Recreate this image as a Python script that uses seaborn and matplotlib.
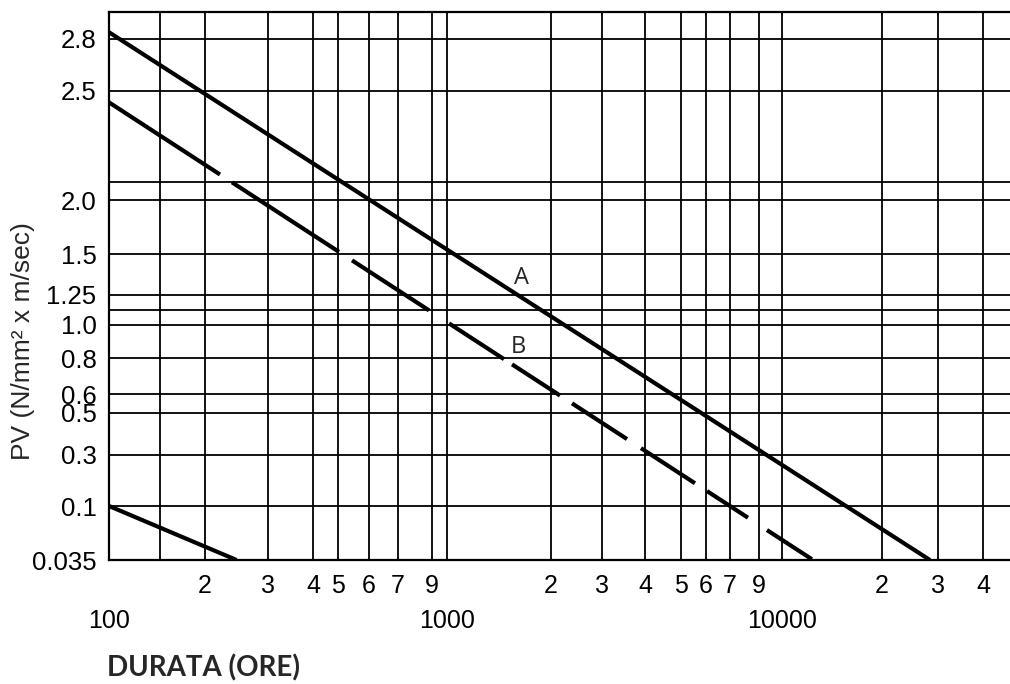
import numpy as np
import pandas as pd
import matplotlib
matplotlib.use('Agg')
import matplotlib.pyplot as plt
import seaborn as sns

# curves: duration (hours) vs PV
hours_a = [100, 28300]
pv_a = [2.85, 0.035]
hours_b = [100, 12400]
pv_b = [2.45, 0.035]
hours_c = [100, 245]
pv_c = [0.1, 0.035]

# y axis
pv_ticks = [0.035, 0.1, 0.3, 0.5, 0.6, 0.8, 1.0, 1.25, 1.5, 2.0, 2.5, 2.8]
pv_labels = ['0.035', '0.1', '0.3', '0.5', '0.6', '0.8', '1.0', '1.25', '1.5', '2.0', '2.5', '2.8']
pv_extra = [1.1, 2.1]

# x axis
hours_major = [100, 1000, 10000]
hours_major_labels = ['100', '1000', '10000']
hours_minor = [150, 200, 300, 400, 500, 600, 700, 900,
               2000, 3000, 4000, 5000, 6000, 7000, 9000,
               20000, 30000, 40000]
hours_minor_labels = ['', '2', '3', '4', '5', '6', '7', '9',
                      '2', '3', '4', '5', '6', '7', '9',
                      '2', '3', '4']

# the printed grid is hand drawn and uneven, so the scales are piecewise
# (value knots -> pixel position on the original sheet)
y_knots = [0.035, 0.1, 0.3, 0.5, 0.6, 0.8, 1.0, 1.1, 1.25, 1.5, 2.0, 2.1, 2.5, 2.8, 3.0]
y_knot_pos = [0, 54, 105, 147, 166, 202, 235, 250, 265, 306, 360, 378, 469, 521, 548]
x_knots = [100, 150, 200, 300, 400, 500, 600, 700, 900, 1000,
           2000, 3000, 4000, 5000, 6000, 7000, 9000, 10000,
           20000, 30000, 40000, 48000]
x_knot_pos = [109, 160, 205, 268, 313, 338, 369, 398, 432, 447,
              551, 602, 645, 681, 706, 730, 759, 782,
              882, 938, 983, 1010]
x_log_knots = np.log10(x_knots)


def y_fwd(v):
    return np.interp(v, y_knots, y_knot_pos)


def y_inv(p):
    return np.interp(p, y_knot_pos, y_knots)


def x_fwd(v):
    return np.interp(np.log10(np.clip(v, 1e-9, None)), x_log_knots, x_knot_pos)


def x_inv(p):
    return 10 ** np.interp(p, x_knot_pos, x_log_knots)


sns.set_style('white')
plt.rcParams['font.family'] = ['Liberation Sans', 'DejaVu Sans']
plt.rcParams['lines.scale_dashes'] = False

fig = plt.figure(figsize=(10.1, 6.84), dpi=100)
ax = fig.add_axes([109 / 1010, 124 / 684, 901 / 1010, 548 / 684])
ax.set_xscale('function', functions=(x_fwd, x_inv))
ax.set_yscale('function', functions=(y_fwd, y_inv))
ax.set_xlim(100, 48000)
ax.set_ylim(0.035, 3.0)

df_a = pd.DataFrame({'ore': hours_a, 'pv': pv_a})
df_b = pd.DataFrame({'ore': hours_b, 'pv': pv_b})
df_c = pd.DataFrame({'ore': hours_c, 'pv': pv_c})

lw = 3.0
sns.lineplot(data=df_a, x='ore', y='pv', ax=ax, color='black', lw=lw,
             solid_capstyle='butt', zorder=5)
b_dashes = (0, (95.3, 10.3, 91.9, 11.2, 66.1, 17.2, 47.2, 6.9, 41.2, 10.3,
                47.2, 12.0, 46.4, 10.3, 35.2, 16.3, 38.6, 300))
sns.lineplot(data=df_b, x='ore', y='pv', ax=ax, color='black', lw=lw,
             linestyle=b_dashes, dash_capstyle='butt', zorder=5)
sns.lineplot(data=df_c, x='ore', y='pv', ax=ax, color='black', lw=lw,
             solid_capstyle='butt', zorder=5)

# ticks and grid
ax.set_yticks(pv_ticks)
ax.set_yticklabels(pv_labels)
ax.set_yticks(pv_extra, minor=True)
ax.set_xticks(hours_major)
ax.set_xticklabels(hours_major_labels)
ax.set_xticks(hours_minor, minor=True)
ax.set_xticklabels(hours_minor_labels, minor=True)

ax.grid(which='both', color='black', lw=1.3)
ax.tick_params(which='both', length=0, colors='black')
ax.tick_params(axis='y', which='major', pad=9, labelsize=18.5)
ax.tick_params(axis='x', which='minor', pad=10, labelsize=18)
ax.tick_params(axis='x', which='major', pad=35, labelsize=18)

for side in ['left', 'top', 'bottom']:
    ax.spines[side].set_color('black')
    ax.spines[side].set_linewidth(1.6)
ax.spines['right'].set_visible(False)

ax.set_xlabel('')
ax.set_ylabel('PV (N/mm² x m/sec)', fontsize=19)
ax.yaxis.set_label_coords(-0.082, 0.40)

ax.text(0.458, 0.515, 'A', transform=ax.transAxes, ha='center', va='center',
        fontsize=17, family=['Open Sans', 'DejaVu Sans'])
ax.text(0.454, 0.389, 'B', transform=ax.transAxes, ha='center', va='center',
        fontsize=17, family=['Open Sans', 'DejaVu Sans'])

fig.text(107 / 1010, 1 - 668 / 684, 'DURATA (ORE)', ha='left', va='center',
         fontsize=20, fontweight='bold', family=['Lato', 'DejaVu Sans'])

fig.savefig('out.png', dpi=100)
